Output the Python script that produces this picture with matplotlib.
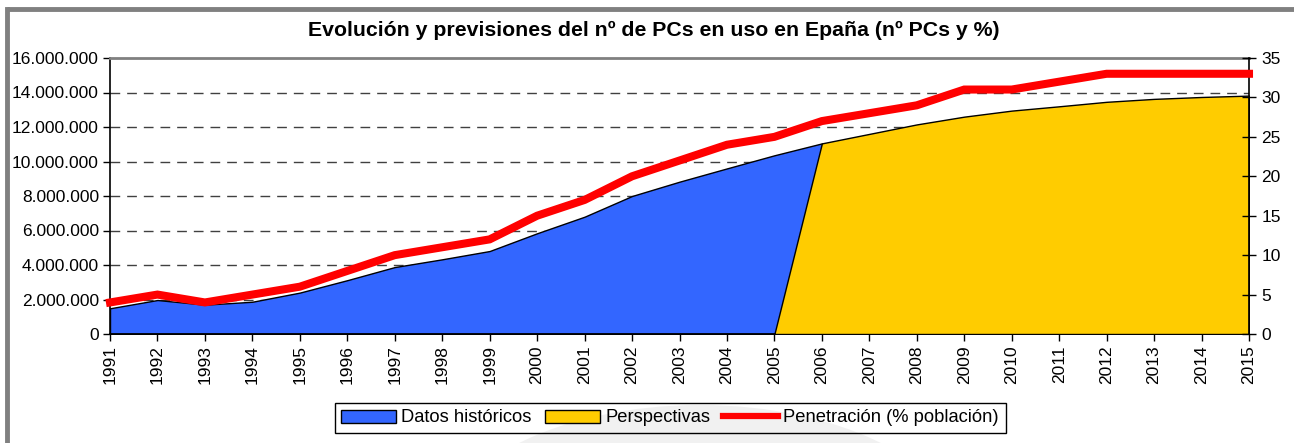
import matplotlib
matplotlib.use("Agg")
import matplotlib.pyplot as plt
import matplotlib.ticker as mticker
from matplotlib.patches import Patch, Ellipse
from matplotlib.lines import Line2D
import numpy as np

plt.rcParams['font.family'] = ['Liberation Sans', 'DejaVu Sans']

years = list(range(1991, 2016))
hist_years = list(range(1991, 2007))
historicos = [1.49e6, 1.97e6, 1.70e6, 1.87e6, 2.40e6, 3.12e6, 3.88e6, 4.33e6,
              4.81e6, 5.84e6, 6.80e6, 8.00e6, 8.83e6, 9.60e6, 10.36e6, 11.05e6]
perspectivas = [0] * 15 + [11.05e6, 11.60e6, 12.15e6, 12.60e6, 12.95e6,
                           13.20e6, 13.46e6, 13.63e6, 13.74e6, 13.82e6]
penetracion = [4, 5, 4, 5, 6, 8, 10, 11, 12, 15, 17, 20, 22, 24, 25,
               27, 28, 29, 31, 31, 32, 33, 33, 33, 33]

title = "Evolución y previsiones del nº de PCs en uso en Epaña (nº PCs y %)"
labels = ["Datos históricos", "Perspectivas", "Penetración (% población)"]

BLUE = "#3366FF"
YELLOW = "#FFCC00"
RED = "#FF0000"
FS = 12.5

W, H = 1294, 443
fig = plt.figure(figsize=(W / 100, H / 100), dpi=100)

# faint watermark swoosh
sw = Ellipse((700 / W, 1 - 540 / H), 520 / W, 270 / H, transform=fig.transFigure,
             facecolor="#f1f1f1", edgecolor="none", zorder=-5)
fig.patches.append(sw)
# gray frame (left and top)
fig.lines.append(Line2D([6.5 / W, 6.5 / W], [0, 1 - 8.5 / H], transform=fig.transFigure,
                        color="#808080", linewidth=3.5, solid_capstyle="projecting"))
fig.lines.append(Line2D([6.5 / W, 1.0], [1 - 8.5 / H, 1 - 8.5 / H], transform=fig.transFigure,
                        color="#808080", linewidth=3.5, solid_capstyle="butt"))

ax = fig.add_axes([110 / W, 1 - 334 / H, (1249 - 110) / W, (334 - 58) / H])
ax.set_facecolor("none")

ax.fill_between(hist_years, historicos, 0, facecolor=BLUE, edgecolor="black",
                linewidth=1, zorder=2)
ax.fill_between(years, perspectivas, 0, facecolor=YELLOW, edgecolor="black",
                linewidth=1, zorder=3)

ax.set_xlim(1991, 2015)
ax.set_ylim(0, 16e6)
ax.set_yticks(np.arange(0, 16e6 + 1, 2e6))
ax.yaxis.set_major_formatter(mticker.FuncFormatter(
    lambda v, p: f"{int(v):,}".replace(",", ".")))
ax.set_xticks(years)
ax.set_xticklabels([str(y) for y in years], rotation=90)
for y in np.arange(2e6, 16e6, 2e6):
    ax.axhline(y, color="#404040", linestyle=(0, (7, 5)), linewidth=1, zorder=1)

ax.tick_params(axis="both", labelsize=FS, direction="out", length=5, width=1,
               color="black", labelcolor="black", pad=3)
ax.spines["top"].set_color("#808080")
ax.spines["top"].set_linewidth(2)
ax.spines["left"].set_linewidth(1.2)
ax.spines["bottom"].set_linewidth(1.2)
ax.spines["right"].set_visible(False)

ax2 = ax.twinx()
ax2.plot(years, penetracion, color=RED, linewidth=5.8, zorder=5,
         solid_joinstyle="miter", clip_on=False)
ax2.set_ylim(0, 35)
ax2.set_yticks(range(0, 36, 5))
ax2.tick_params(axis="y", labelsize=FS, direction="inout", length=10, width=1, pad=4)
ax2.spines["right"].set_linewidth(1.2)
ax2.spines["top"].set_visible(False)
ax2.spines["left"].set_visible(False)
ax2.spines["bottom"].set_visible(False)

fig.text(654 / W, 1 - 30 / H, title, ha="center", va="center",
         fontsize=15.3, fontweight="bold")

handles = [Patch(facecolor=BLUE, edgecolor="black", linewidth=1),
           Patch(facecolor=YELLOW, edgecolor="black", linewidth=1),
           Line2D([], [], color=RED, linewidth=4.5)]
leg = fig.legend(handles, labels, loc="center", bbox_to_anchor=(670 / W, 1 - 418 / H),
                 ncol=3, fontsize=13.2, frameon=True, fancybox=False,
                 handlelength=3.0, handleheight=0.7,
                 handletextpad=0.3, columnspacing=0.7, borderpad=0.35,
                 borderaxespad=0)
frame = leg.get_frame()
frame.set_alpha(None)
frame.set_facecolor("none")
frame.set_edgecolor("black")
frame.set_linewidth(1)

fig.savefig("out.png", dpi=100)
